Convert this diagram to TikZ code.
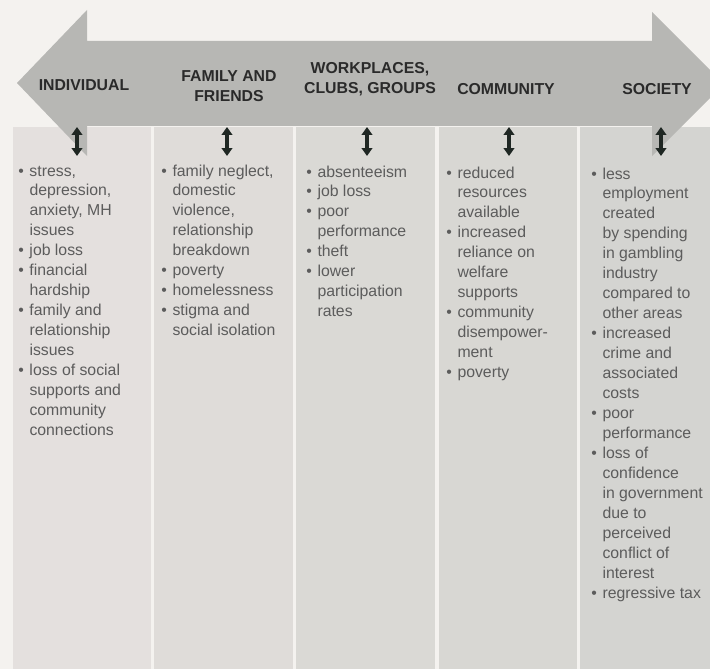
\documentclass[tikz,border=0pt]{standalone}
\usepackage{fontspec}
\setmainfont{Liberation Sans}
\usetikzlibrary{arrows.meta}

\definecolor{paper}{HTML}{F4F2EF}
\definecolor{band}{HTML}{B7B7B4}
\definecolor{colA}{HTML}{E4E0DE}
\definecolor{colB}{HTML}{DFDCD9}
\definecolor{colC}{HTML}{DAD9D5}
\definecolor{colD}{HTML}{D8D7D3}
\definecolor{colE}{HTML}{D4D4D1}
\definecolor{hdrtext}{HTML}{2A2A2A}
\definecolor{itemtext}{HTML}{5C5C5C}
\definecolor{tipcol}{HTML}{1F2723}

\newcommand{\itemlist}[1]{\begin{tabular}[t]{@{}l@{\hspace{3.2pt}}l@{}}#1\end{tabular}}
\newcommand{\bu}{\textbullet}

\tikzset{
  hdr/.style={font=\fontsize{9}{11.4}\selectfont\bfseries, text=hdrtext, align=center, inner sep=0pt},
  items/.style={anchor=base west, inner sep=0pt, text=itemtext, font=\fontsize{9}{11.38}\selectfont},
  updown/.style={{Triangle[width=6pt,length=4.5pt]}-{Triangle[width=6pt,length=4.5pt]}, line width=2pt, draw=tipcol},
}

\begin{document}
\begin{tikzpicture}[x=0.02cm, y=-0.02cm]
  \clip (0,0) rectangle (710,669);
  \fill[paper] (0,0) rectangle (710,669);

  % columns
  \fill[colA] (13,127) rectangle (151,669);
  \fill[colB] (154,127) rectangle (293,669);
  \fill[colC] (296,127) rectangle (435,669);
  \fill[colD] (439,127) rectangle (577,669);
  \fill[colE] (580,127) rectangle (710,669);

  % big double arrow
  \fill[band] (17,83) -- (87,10) -- (87,41) -- (652,41) -- (652,12) -- (724,84)
              -- (652,156) -- (652,126) -- (87,126) -- (87,156) -- cycle;

  \node [hdr] (ind) at (84,85) {INDIVIDUAL};
  \node [hdr] (fam) at (229,86) {FAMILY AND\\FRIENDS};
  \node [hdr] (work) at (370,79) {WORKPLACES,\\CLUBS, GROUPS};
  \node [hdr] (comm) at (506,89) {COMMUNITY};
  \node [hdr] (soc) at (657,89) {SOCIETY};

  \foreach \x [count=\i] in {77,227,367,509,661} {
    \coordinate (up\i) at (\x,127);
    \coordinate (dn\i) at (\x,156);
    \draw [updown] (up\i) -- (dn\i);
  }

  \node [items] (indlist) at (18,176) {\itemlist{
    \bu & stress,\\ & depression,\\ & anxiety, MH\\ & issues\\
    \bu & job loss\\
    \bu & financial\\ & hardship\\
    \bu & family and\\ & relationship\\ & issues\\
    \bu & loss of social\\ & supports and\\ & community\\ & connections}};
  \node [items] (famlist) at (161,176) {\itemlist{
    \bu & family neglect,\\ & domestic\\ & violence,\\ & relationship\\ & breakdown\\
    \bu & poverty\\
    \bu & homelessness\\
    \bu & stigma and\\ & social isolation}};
  \node [items] (worklist) at (306,177) {\itemlist{
    \bu & absenteeism\\
    \bu & job loss\\
    \bu & poor\\ & performance\\
    \bu & theft\\
    \bu & lower\\ & participation\\ & rates}};
  \node [items] (commlist) at (446,178) {\itemlist{
    \bu & reduced\\ & resources\\ & available\\
    \bu & increased\\ & reliance on\\ & welfare\\ & supports\\
    \bu & community\\ & disempower-\\ & ment\\
    \bu & poverty}};
  \node [items] (soclist) at (591,179) {\itemlist{
    \bu & less\\ & employment\\ & created\\ & by spending\\ & in gambling\\ & industry\\ & compared to\\ & other areas\\
    \bu & increased\\ & crime and\\ & associated\\ & costs\\
    \bu & poor\\ & performance\\
    \bu & loss of\\ & confidence\\ & in government\\ & due to\\ & perceived\\ & conflict of\\ & interest\\
    \bu & regressive tax}};
\end{tikzpicture}
\end{document}
